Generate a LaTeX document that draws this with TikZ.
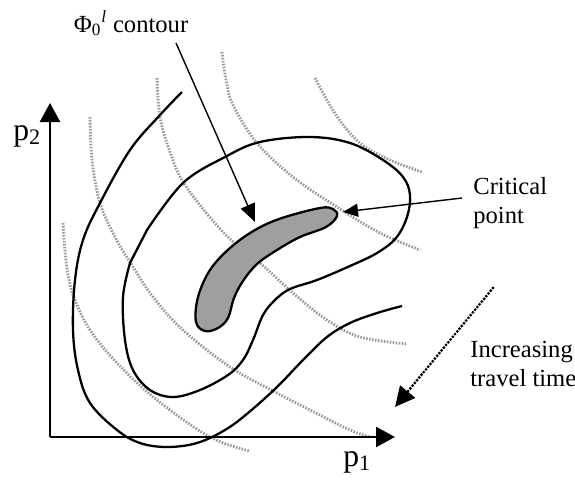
\documentclass[tikz,border=0pt]{standalone}
\usepackage{fontspec}
\setmainfont{Liberation Serif}
\usepackage{tikz}
\usetikzlibrary{positioning}
\usetikzlibrary{calc,arrows.meta}

\begin{document}
\begin{tikzpicture}[x=0.02cm,y=-0.02cm,
  contour/.style={line width=1.3pt,smooth,tension=0.6},
  isotime/.style={gray!80,line width=1.6pt,dash pattern=on 0.9pt off 0.8pt,smooth,tension=0.6},
  label text/.style={font=\fontsize{14}{16.5}\selectfont,inner sep=0pt,align=left},
  axis text/.style={font=\fontsize{18}{20}\selectfont,inner sep=0pt}]
\useasboundingbox (0,0) rectangle (575,481);
% axes
\coordinate (O) at (50,437);
\coordinate (Ptwo) at (50,103);
\coordinate (Pone) at (395,437);
\node[axis text,anchor=base west] at (13,140) (ptwo) {p\textsubscript{2}};
\node[axis text,anchor=base west] at (343,466) (pone) {p\textsubscript{1}};
% iso travel time lines
\draw[isotime] plot coordinates {(63,223) (65,250) (68,275) (75,300) (90,330) (117,363) (157,400) (210,437) (250,451)};
\draw[isotime] plot coordinates {(90,117) (92,160) (100,203) (115,237) (130,262) (153,297) (183,330) (230,367) (277,393) (310,410) (350,430) (370,437)};
\draw[isotime] plot coordinates {(157,78) (160,117) (170,152) (185,185) (224,233) (260,263) (293,293) (327,320) (360,337) (407,344)};
\draw[isotime] plot coordinates {(222,52) (226,80) (233,105) (257,143) (293,177) (337,207) (380,233) (420,250)};
\draw[isotime] plot coordinates {(315,78) (336,115) (360,143) (390,160) (422,172)};
% contours
\draw[contour] plot coordinates {(182,92) (160,115) (130,150) (100,203) (83,240) (75,280) (73,330) (78,370) (90,403) (117,430) (140,443) (167,447) (197,443) (225,430) (248,413) (277,387) (303,360) (327,337) (350,323) (377,313) (402,306)};
\draw[contour] plot coordinates {(147,230) (183,183) (225,157) (260,142) (310,137) (350,143) (383,160) (403,177) (410,195) (407,217) (396,238) (377,253) (350,266) (317,280) (290,289) (275,300) (263,315) (253,340) (243,360) (228,375) (200,390) (173,397) (150,390) (133,370) (125,340) (123,297) (130,263)} -- cycle;
\draw[contour,fill=gray!75,smooth cycle] plot coordinates {(196,322) (198,297) (210,270) (230,248) (255,230) (282,218) (320,208) (333,209) (337,216) (326,227) (300,237) (277,250) (257,264) (243,281) (234,298) (228,318) (218,328) (205,331)};
\draw[-{Triangle[length=0.38cm,width=0.4cm]}, line width=1.4pt] (O) -- (Ptwo);
\draw[-{Triangle[length=0.38cm,width=0.4cm]}, line width=1.4pt] (O) -- (Pone);
% labels
\node[label text,anchor=base] at (131,32) (Phi) {Φ\textsubscript{0}\textsuperscript{\itshape l} contour};
\node[label text,anchor=north west] at (473,177) (Crit) {Critical\\point};
\node[label text,anchor=north west] at (470,341) (Incr) {Increasing\\travel time};
\coordinate (phitail) at (176,43);
\coordinate (phihead) at (255,222);
\coordinate (crittail) at (462,198);
\coordinate (crithead) at (343,212);
\coordinate (incrtail) at (493,288);
\coordinate (incrhead) at (395,407);
\draw[-{Triangle[length=0.36cm,width=0.3cm]}, line width=.8pt] (phitail) -- (phihead);
\draw[-{Triangle[length=0.3cm,width=0.26cm]}, line width=.8pt] (crittail) -- (crithead);
\draw[-{Triangle[length=0.4cm,width=0.38cm]}, line width=1.8pt,line cap=round,dash pattern=on 0pt off 2pt] (incrtail) -- (incrhead);
\end{tikzpicture}
\end{document}
